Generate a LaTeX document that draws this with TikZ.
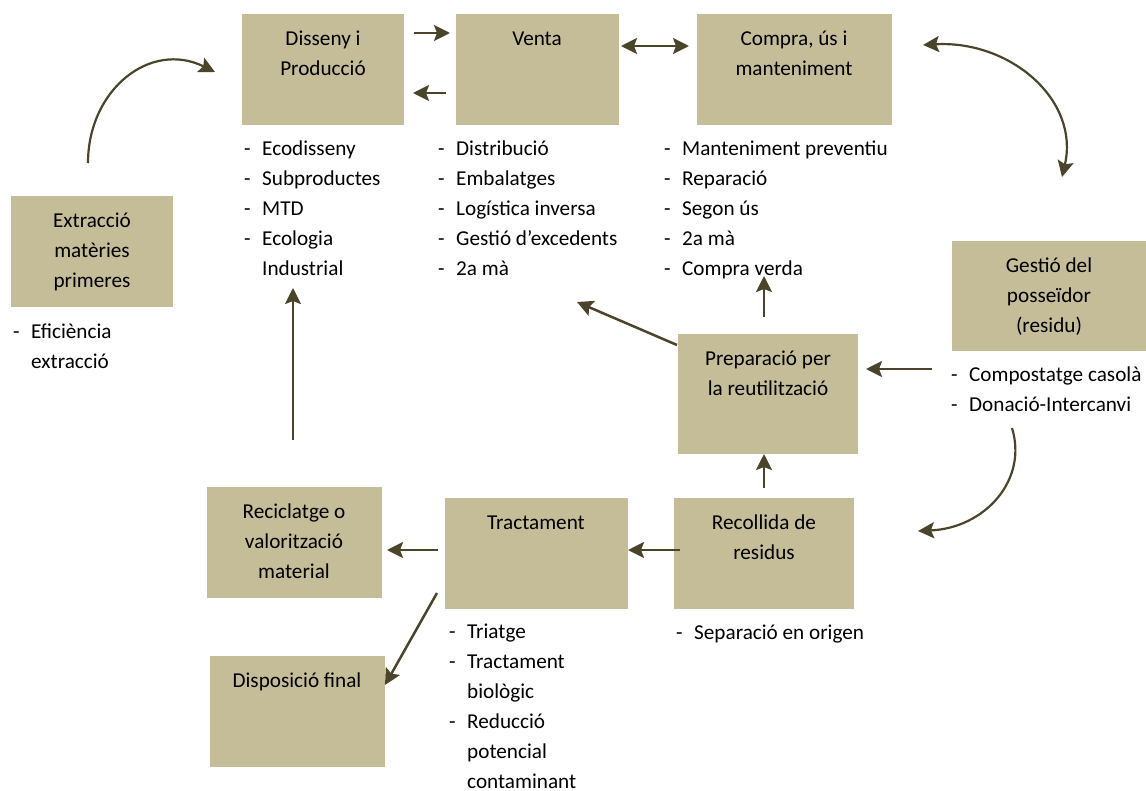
\documentclass[tikz,border=0pt]{standalone}
\usepackage{fontspec}
\setmainfont{Carlito}
\usetikzlibrary{arrows.meta}
\definecolor{boxtan}{HTML}{C4BD97}
\definecolor{arrowbrown}{HTML}{4A452A}
\newcommand{\itm}{\makebox[18pt][l]{-}}
\newcommand{\hangsp}{\hspace*{18pt}}

\begin{document}
\begin{tikzpicture}[x=1pt, y=-1pt,
		box/.style={fill=boxtan, inner sep=0pt},
		boxtext/.style={font=\fontsize{21.2}{30}\selectfont, align=center, anchor=north, inner sep=0pt},
		itemlist/.style={font=\fontsize{21.2}{30}\selectfont, align=left, anchor=north west, inner sep=0pt},
		arr/.style={draw=arrowbrown, line width=2.5pt, -{Stealth[length=16pt, width=16pt, inset=3pt]}},
		arrcurve/.style={draw=arrowbrown, line width=2.2pt, -{Stealth[length=16pt, width=16pt, inset=3pt]}},
		arrboth/.style={draw=arrowbrown, line width=2.5pt, {Stealth[length=16pt, width=16pt, inset=3pt]}-{Stealth[length=16pt, width=16pt, inset=3pt]}}]
	\useasboundingbox (0, 0) rectangle (1146, 790);

	% boxes
	\draw (323, 69.5) 	node[box, minimum width=162pt, minimum height=111pt] 	(dis) 	{};
	\draw (537.5, 69.5) 	node[box, minimum width=163pt, minimum height=111pt] 	(ven) 	{};
	\draw (794.5, 69.5) 	node[box, minimum width=195pt, minimum height=111pt] 	(com) 	{};
	\draw (92, 251.5) 	node[box, minimum width=162pt, minimum height=111pt] 	(ext) 	{};
	\draw (1049, 296) 	node[box, minimum width=194pt, minimum height=110pt] 	(ges) 	{};
	\draw (768, 394) 	node[box, minimum width=180pt, minimum height=120pt] 	(pre) 	{};
	\draw (294.5, 542.5) 	node[box, minimum width=175pt, minimum height=111pt] 	(rec) 	{};
	\draw (536.5, 553.5) 	node[box, minimum width=183pt, minimum height=111pt] 	(tra) 	{};
	\draw (764, 553.5) 	node[box, minimum width=180pt, minimum height=111pt] 	(rco) 	{};
	\draw (297.5, 711.5) 	node[box, minimum width=175pt, minimum height=111pt] 	(dsp) 	{};

	% box texts
	\draw (323, 24) 	node[boxtext] 	(dis_t) 	{\strut Disseny i\\Producció};
	\draw (537, 24) 	node[boxtext] 	(ven_t) 	{\strut Venta};
	\draw (794, 24) 	node[boxtext] 	(com_t) 	{\strut Compra, ús i\\manteniment};
	\draw (92, 206) 	node[boxtext] 	(ext_t) 	{\strut Extracció\\matèries\\primeres};
	\draw (1049, 251) 	node[boxtext] 	(ges_t) 	{\strut Gestió del\\posseïdor\\(residu)};
	\draw (768, 344) 	node[boxtext] 	(pre_t) 	{\strut Preparació per\\la reutilització};
	\draw (294, 497) 	node[boxtext] 	(rec_t) 	{\strut Reciclatge o\\valorització\\material};
	\draw (536, 508) 	node[boxtext] 	(tra_t) 	{\strut Tractament};
	\draw (764, 508) 	node[boxtext] 	(rco_t) 	{\strut Recollida de\\residus};
	\draw (297, 666) 	node[boxtext] 	(dsp_t) 	{\strut Disposició final};

	% lists
	\draw (244, 134) 	node[itemlist] 	(dis_l) 	{\strut\itm Ecodisseny\\\itm Subproductes\\\itm MTD\\\itm Ecologia\\\hangsp Industrial};
	\draw (438, 134) 	node[itemlist] 	(ven_l) 	{\strut\itm Distribució\\\itm Embalatges\\\itm Logística inversa\\\itm Gestió d’excedents\\\itm 2a mà};
	\draw (664, 134) 	node[itemlist] 	(com_l) 	{\strut\itm Manteniment preventiu\\\itm Reparació\\\itm Segon ús\\\itm 2a mà\\\itm Compra verda};
	\draw (13, 317) 	node[itemlist] 	(ext_l) 	{\strut\itm Eficiència\\\hangsp extracció};
	\draw (951, 360) 	node[itemlist] 	(ges_l) 	{\strut\itm Compostatge casolà\\\itm Donació-Intercanvi};
	\draw (449, 617) 	node[itemlist] 	(tra_l) 	{\strut\itm Triatge\\\itm Tractament\\\hangsp biològic\\\itm Reducció\\\hangsp potencial\\\hangsp contaminant};
	\draw (676, 618) 	node[itemlist] 	(rco_l) 	{\strut\itm Separació en origen};

	% free ends
	\coordinate (e1) at (88, 163);
	\coordinate (e2) at (215, 72);
	\coordinate (a1) at (414, 33);
	\coordinate (a2) at (450, 33);
	\coordinate (b1) at (446, 93);
	\coordinate (b2) at (413, 93);
	\coordinate (c1) at (621, 46);
	\coordinate (c2) at (689, 46);
	\coordinate (d1) at (923, 45);
	\coordinate (d2) at (1062, 177);
	\coordinate (g1) at (932, 369);
	\coordinate (g2) at (866, 369);
	\coordinate (p1) at (764, 317);
	\coordinate (p2) at (764, 276);
	\coordinate (p3) at (677, 345);
	\coordinate (p4) at (577, 302);
	\coordinate (h1) at (1012, 428);
	\coordinate (h2) at (918, 531);
	\coordinate (r1) at (764, 488);
	\coordinate (r2) at (764, 454);
	\coordinate (r3) at (680, 550);
	\coordinate (r4) at (628, 550);
	\coordinate (t1) at (438, 550);
	\coordinate (t2) at (387, 550);
	\coordinate (t3) at (437, 593);
	\coordinate (t4) at (385, 685);
	\coordinate (u1) at (293, 440);
	\coordinate (u2) at (293, 288);

	\draw[arrcurve] (e1) .. controls (88, 90) and (150, 40) .. (e2);
	\draw[arr] (a1) -- (a2);
	\draw[arr] (b1) -- (b2);
	\draw[arrboth] (c1) -- (c2);
	\draw[arrboth, line width=2.2pt] (d1) .. controls (1010, 40) and (1080, 100) .. (d2);
	\draw[arr] (g1) -- (g2);
	\draw[arr] (p1) -- (p2);
	\draw[arr] (p3) -- (p4);
	\draw[arrcurve] (h1) .. controls (1028, 480) and (985, 528) .. (h2);
	\draw[arr] (r1) -- (r2);
	\draw[arr] (r3) -- (r4);
	\draw[arr] (t1) -- (t2);
	\draw[arr] (t3) -- (t4);
	\draw[arr] (u1) -- (u2);
\end{tikzpicture}
\end{document}
